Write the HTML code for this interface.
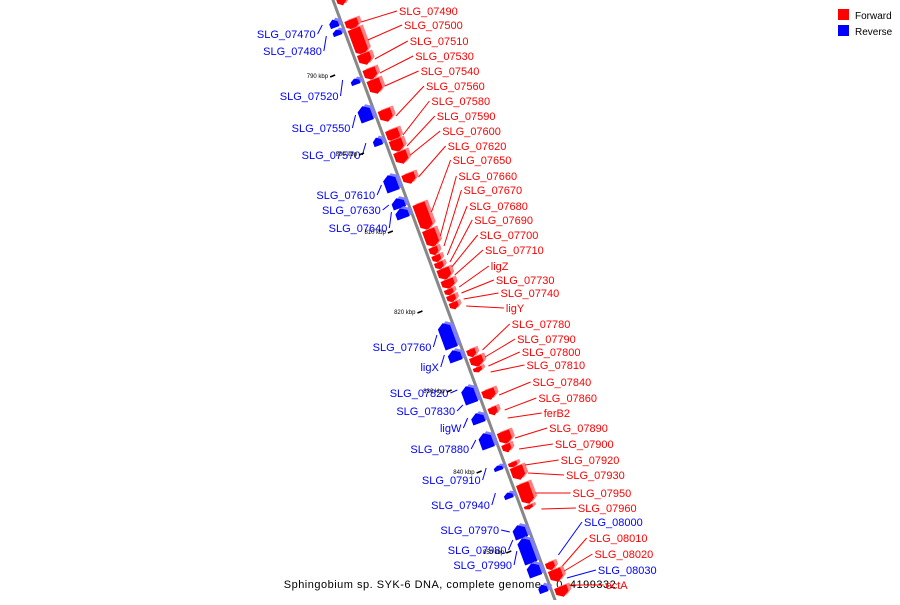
<!DOCTYPE html>
<html><head><meta charset="utf-8"><style>
body{margin:0;background:#fff}
svg text{font-family:"Liberation Sans",sans-serif}
</style></head><body>
<svg id="c" width="900" height="600" xmlns="http://www.w3.org/2000/svg">
<g>
<rect x="838" y="9" width="11" height="11" fill="#f00"/>
<text x="855" y="19" font-size="10">Forward</text>
<rect x="838" y="25" width="11" height="11" fill="#00f"/>
<text x="855" y="35" font-size="10">Reverse</text>
</g>
<text x="450" y="588" font-size="11" text-anchor="middle" letter-spacing="0.5">Sphingobium sp. SYK-6 DNA, complete genome. - 0..4199332</text>
<g id="main"></g>
</svg>
<script>
// gene spans by image y: start, end, strand (1 forward, -1 reverse)
const geneStart=[0,23,32,57,72,83,113,133,143,155,177,207,233,250,258,265,272,283,292,298,305,352,360,370,393,410,435,447,465,470,487,508,565,573,590,
17,27,76,103,135,172,195,205,320,347,383,410,430,463,490,522,535,560,582];
const geneEnd=[8,33,58,68,83,97,125,145,155,167,187,233,250,258,265,272,283,292,298,305,312,360,370,375,403,418,447,455,470,483,507,512,573,585,600,
25,33,82,118,143,188,205,215,345,358,400,420,445,468,496,535,560,573,590];
const geneStrand=[1,1,1,1,1,1,1,1,1,1,1,1,1,1,1,1,1,1,1,1,1,1,1,1,1,1,1,1,1,1,1,1,1,1,1,
-1,-1,-1,-1,-1,-1,-1,-1,-1,-1,-1,-1,-1,-1,-1,-1,-1,-1,-1];
const redLabels=["SLG_07490","SLG_07500","SLG_07510","SLG_07530","SLG_07540","SLG_07560","SLG_07580","SLG_07590","SLG_07600","SLG_07620","SLG_07650","SLG_07660","SLG_07670","SLG_07680","SLG_07690","SLG_07700","SLG_07710","ligZ","SLG_07730","SLG_07740","ligY","SLG_07780","SLG_07790","SLG_07800","SLG_07810","SLG_07840","SLG_07860","ferB2","SLG_07890","SLG_07900","SLG_07920","SLG_07930","SLG_07950","SLG_07960","SLG_08010","SLG_08020","ectA"];
const redLabelY=[11,25,41,56,71,86,101,116,131,146,160,176,190,206,220,235,250,266,280,293,308,324,339,352,365,382,398,413,428,444,460,475,493,508,538,554,585];
const redGeneY=[22,40,59,73,86,116,135,146,155,177,212,236,246,255,262,267,275,287,293,299,306,350,357,366,372,395,410,418,438,449,465,473,493,509,566,571,585];
const blueLabels=["SLG_07470","SLG_07480","SLG_07520","SLG_07550","SLG_07570","SLG_07610","SLG_07630","SLG_07640","SLG_07760","ligX","SLG_07820","SLG_07830","ligW","SLG_07880","SLG_07910","SLG_07940","SLG_07970","SLG_07980","SLG_07990","SLG_08000","SLG_08030"];
const blueLabelY=[34,51,96,128,155,195,210,228,347,367,393,411,428,449,480,505,530,550,565,522,570];
const blueGeneY=[25,36,80,115,143,185,205,212,335,355,390,405,418,440,468,493,532,540,551,555,578];
const kbpLabels=["790 kbp","800 kbp","810 kbp","820 kbp","830 kbp","840 kbp","850 kbp"];
const kbpY=[76,154,232,312,391,472,552];

const NS="http://www.w3.org/2000/svg";
const main=document.getElementById('main');
const X0=333,SL=0.37;
function lineX(y){return X0+SL*y;}
function mk(tag,attrs,parent){const e=document.createElementNS(NS,tag);for(const k in attrs)e.setAttribute(k,attrs[k]);(parent||main).appendChild(e);return e;}
const ang=Math.atan(SL), c=Math.cos(ang), s=Math.sin(ang);
// perpendicular unit (to the right)
const px=c, py=-s;
function pt(y,off){return [lineX(y)+px*off, y+py*off];}

// backbone
let bb=mk('line',{x1:lineX(-5),y1:-5,x2:lineX(605),y2:605,stroke:'#888','stroke-width':3});



// genes
for(let i=0;i<geneStart.length;i++){
  const y1=geneStart[i],y2=geneEnd[i],st=geneStrand[i];
  const len=y2-y1; const tip=Math.min(4,len*0.4);
  const w=len<9?9:13;
  const a=st>0?3:-3, b=st>0?3+w:-3-w;
  let P;
  if(st>0){P=[pt(y1,a),pt(y1,b),pt(y2-tip,b),pt(y2,(a+b)/2),pt(y2-tip,a)];}
  else{P=[pt(y2,a),pt(y2,b),pt(y1+tip,b),pt(y1,(a+b)/2),pt(y1+tip,a)];}
  const side=P.map(p=>[p[0]+3,p[1]-2]);
  const col=st>0?'#f00':'#00f', light=st>0?'#ff8080':'#8080ff';
  const sh=mk('polygon',{points:side.map(p=>p.join(',')).join(' '),fill:light});
  
  
  const g=mk('polygon',{points:P.map(p=>p.join(',')).join(' '),fill:col});
  
  
}

// red labels
for(let i=0;i<redLabels.length;i++){
  const ly=redLabelY[i], gy=redGeneY[i];
  const lx=399+(ly-11)*0.36;
  const gx=lineX(gy)+20;
  const ln=mk('line',{x1:gx,y1:gy,x2:lx-2,y2:ly,stroke:'#f00','stroke-width':1});
  
  
  const t=mk('text',{x:lx,y:ly+4,'font-size':11,fill:'#f00'});
  t.textContent=redLabels[i];
  
  
}
// blue labels
for(let i=0;i<blueLabels.length;i++){
  const ly=blueLabelY[i], gy=blueGeneY[i];
  let lx, anchor;
  if(i>=19){lx=584+(ly-522)*0.29;anchor='start';}
  else{lx=lineX(ly)-30;anchor='end';}
  if(blueLabels[i]==='ligX'||blueLabels[i]==='ligW'){}
  const gx=anchor==='end'?lineX(gy)-20:lineX(gy)+20;
  const ln=mk('line',{x1:gx,y1:gy,x2:anchor==='end'?lx+2:lx-2,y2:ly,stroke:'#00f','stroke-width':1});
  
  
  const t=mk('text',{x:lx,y:ly+4,'font-size':11,fill:'#00f','text-anchor':anchor});
  t.textContent=blueLabels[i];
  
  
}
// kbp ticks
for(let i=0;i<kbpLabels.length;i++){
  const y=kbpY[i];
  const x=lineX(y)-27;
  const t=mk('text',{x:x-6,y:y+2,'font-size':6,fill:'#000','text-anchor':'end'});
  t.textContent=kbpLabels[i];
  
  
  const d=mk('line',{x1:x-4,y1:y+1,x2:x+1,y2:y-1,stroke:'#000','stroke-width':1.5});
  
  
}
</script>
</body></html>
